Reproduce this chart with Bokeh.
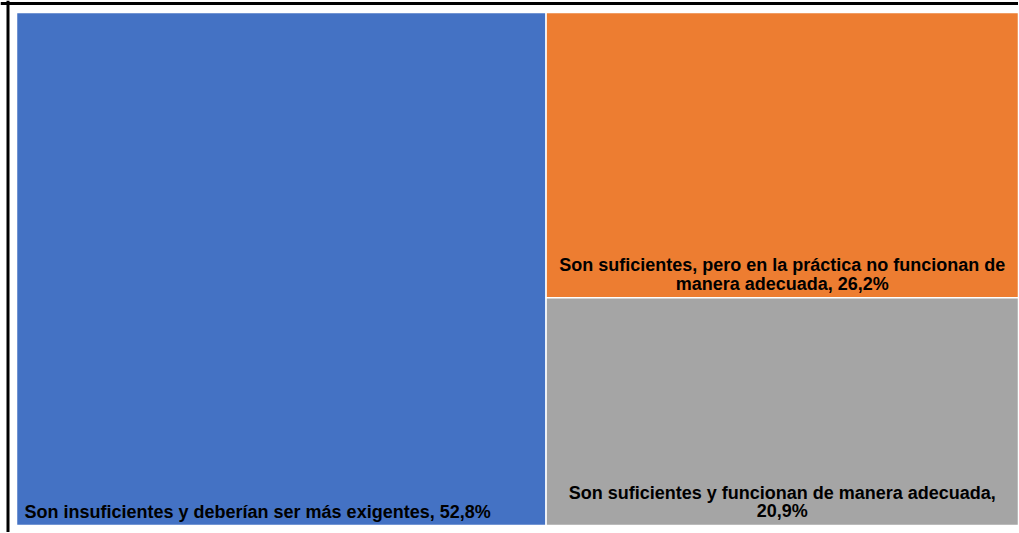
from bokeh.plotting import figure
from bokeh.models import Range1d, Span, ColumnDataSource
from bokeh.core.properties import value
from bokeh.embed import file_html
from bokeh.resources import INLINE

categories = [
    "Son insuficientes y deberían ser más exigentes",
    "Son suficientes, pero en la práctica no funcionan de\nmanera adecuada",
    "Son suficientes y funcionan de manera adecuada,\n",
]
values = [52.8, 26.2, 20.9]
value_labels = ["52,8%", "26,2%", "20,9%"]
colors = ["#4472C4", "#ED7D31", "#A5A5A5"]

labels = []
for c, v in zip(categories, value_labels):
    if c.endswith("\n"):
        labels.append(c + v)
    else:
        labels.append(c + ", " + v)

# treemap layout (slice first, dice the rest)
W, H = 1002, 513
total = sum(values)
w0 = W * values[0] / total
rest = sum(values[1:])
h1 = H * values[1] / rest
left = [0, w0, w0]
right = [w0, W, W]
bottom = [0, H - h1, 0]
top = [H, H, H - h1]

src = ColumnDataSource(dict(left=left, right=right, bottom=bottom, top=top, color=colors))

p = figure(width=1018, height=532, output_backend="svg", toolbar_location=None,
           x_range=Range1d(-16, W), y_range=Range1d(-7, H + 12), min_border=0)
p.axis.visible = False
p.grid.visible = False
p.outline_line_color = None
p.background_fill_color = "white"
p.border_fill_color = "white"

p.quad(left="left", right="right", bottom="bottom", top="top", color="color",
       line_color="white", line_width=1.5, source=src)

tx = [left[0] + 8, (left[1] + right[1]) / 2, (left[2] + right[2]) / 2]
ty = [bottom[0] + 4, bottom[1] + 4, bottom[2] + 4]
align = ["left", "center", "center"]
tsrc = ColumnDataSource(dict(x=tx, y=ty, text=labels, align=align))
p.text(x="x", y="y", text="text", source=tsrc, text_align="align",
       text_baseline="bottom", text_font=value("Liberation Sans"),
       text_font_style="bold", text_font_size="18px", text_color="black",
       text_line_height=0.92)

p.add_layout(Span(location=-8.5, dimension="height", line_color="black", line_width=3))
p.add_layout(Span(location=H + 9, dimension="width", line_color="black", line_width=3))

open("out.html", "w").write(file_html(p, INLINE))
